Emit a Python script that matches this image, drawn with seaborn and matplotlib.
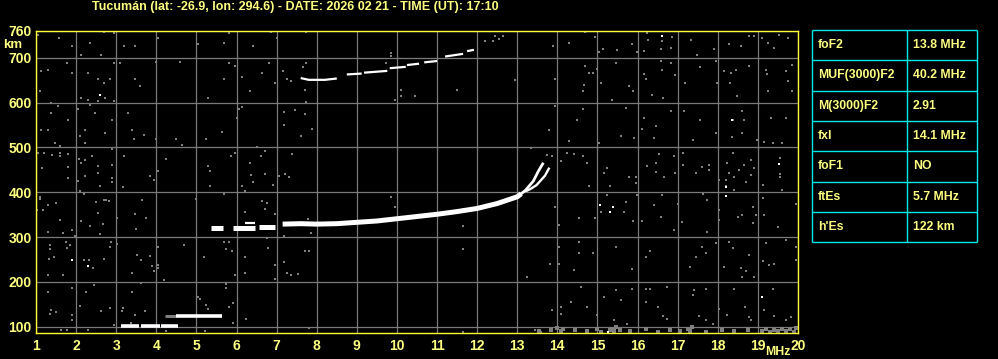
import numpy as np
import pandas as pd
import matplotlib
matplotlib.use("Agg")
import matplotlib.pyplot as plt
import seaborn as sns

# ---------------- data ----------------
title = "Tucumán (lat: -26.9, lon: 294.6) - DATE: 2026 02 21 - TIME (UT): 17:10"
x_ticks = list(range(1, 21))
y_ticks = [100, 200, 300, 400, 500, 600, 700, 760]

table_labels = ["foF2", "MUF(3000)F2", "M(3000)F2", "fxI", "foF1", "ftEs", "h'Es"]
table_values = ["13.8 MHz", "40.2 MHz", "2.91", "14.1 MHz", "NO", "5.7 MHz", "122 km"]

# F2 trace (ordinary) - thick low-frequency body, in segments
f2_body_seg = [1, 1, 2, 2, 3, 3,
               5, 5, 5, 5, 5, 5, 5, 5, 5, 5, 5, 5, 5, 5]
f2_body_mhz = [5.37, 5.66, 5.90, 6.45, 6.55, 6.95,
               7.15, 7.60, 8.00, 8.50, 9.00, 9.50, 10.0, 10.5, 11.0, 11.5, 12.0, 12.5, 13.0, 13.1]
f2_body_km = [321, 321, 321, 321, 322, 322,
              329, 330, 329, 330, 333, 336, 341, 346, 351, 357, 364, 375, 390, 397]
# thin echo just above the low-frequency part
f2_echo_mhz = [6.20, 6.47]
f2_echo_km = [332, 332]
# cusp of the ordinary trace
f2_o_mhz = [13.0, 13.2, 13.4, 13.52, 13.65]
f2_o_km = [390, 404, 425, 446, 466]
# extraordinary branch
f2_x_mhz = [13.2, 13.32, 13.48, 13.60, 13.69, 13.80]
f2_x_km = [402, 407, 416, 428, 437, 455]

# second hop F2 (2F) trace
f2b_seg = [1, 1, 1, 1, 2, 2, 3, 3, 4, 4, 5, 5, 6, 6, 7, 7, 8, 8]
f2b_mhz = [7.60, 7.80, 8.20, 8.50, 8.75, 9.12, 9.18, 9.76, 9.82, 10.22,
           10.25, 10.55, 10.68, 11.0, 11.2, 11.65, 11.75, 11.92]
f2b_km = [655, 651, 651, 654, 663, 665, 667, 671, 677, 680,
          684, 687, 690, 693, 703, 709, 715, 718]

# sporadic E traces
es_low_seg = [1, 1, 2, 2, 3, 3]
es_low_mhz = [3.12, 3.58, 3.62, 4.08, 4.12, 4.55]
es_low_km = [101, 101, 101, 101, 101, 101]
es_high_mhz = [4.50, 5.63]
es_high_km = [123, 123]
es_high_faint_mhz = [4.22, 4.50]
es_high_faint_km = [124, 124]

# scattered interference dots (gray)
noise_mhz = [
    1.05, 1.57, 1.9, 2.13, 2.34, 2.63, 2.7, 2.95, 3.2, 3.47, 4.05, 5.03, 5.7, 5.8, 6.4, 6.85, 7.0,
    1.13, 1.3, 1.78, 1.9, 2.3, 2.55, 2.7, 2.85, 2.95, 3.1, 3.47, 3.6, 1.1, 1.38, 2.13, 2.3, 2.55,
    2.72, 2.95, 4.0, 4.6, 5.3, 5.68, 5.8, 5.95, 6.13, 6.34, 6.63, 6.8, 6.95, 7.15, 7.25,
    1.55, 1.38, 1.13, 1.3, 2.05, 1.8, 2.1, 2.22, 2.22, 2.35, 2.47, 2.72, 2.9, 3.3, 3.4, 3.45, 3.7,
    4.0, 4.5, 4.65, 5.25, 5.65, 6.05, 6.13, 6.0, 6.5, 7.18, 7.18, 1.48, 1.6,
    1.05, 1.2, 1.15, 1.4, 1.6, 1.6, 1.8, 1.8, 2.08, 2.13, 2.23, 2.4, 2.55, 2.9, 2.9, 2.55, 2.9,
    2.9, 2.22, 2.05, 1.8, 3.2, 2.6, 3.18, 3.85, 3.93, 4.03, 4.23, 5.3, 5.33, 5.33, 5.85, 5.97,
    6.33, 6.35, 6.4, 6.7, 6.6, 6.7, 6.9, 7.05, 7.2, 7.3, 6.13, 6.2, 2.1, 2.2, 1.1,
    1.1, 1.03, 1.18, 1.3, 1.5, 1.6, 1.3, 1.68, 1.9, 1.97, 2.13, 2.35, 2.5, 2.55, 2.7, 2.75, 2.82,
    2.68, 2.6, 3.03, 3.47, 3.5, 3.65, 3.75, 5.0, 5.7, 6.2, 6.63, 6.75, 6.7, 6.97, 6.75, 7.18,
    1.35, 1.35, 1.45, 1.33, 1.3, 1.68, 1.75, 1.77, 1.85, 2.2, 2.32, 2.43, 2.7, 2.88, 2.85, 3.03,
    3.53, 3.63, 3.85, 3.9, 3.93, 4.03, 4.03, 4.03, 3.4, 4.68, 5.2, 5.68, 5.8, 5.73, 5.88, 5.95,
    6.2, 6.2, 6.78, 6.95, 6.95, 7.18, 7.25,
    1.3, 1.38, 1.35, 1.5, 1.9, 1.9, 1.9, 2.1, 2.25, 2.45, 2.63, 2.85, 3.17, 3.15, 3.4, 3.47,
    3.63, 3.72, 4.18, 5.03, 5.1, 5.23, 5.3, 5.75, 5.75, 5.9, 5.8, 6.23, 5.92, 1.63, 1.77, 2.3,
    2.95, 3.38, 4.25, 5.22,
    7.74, 9.84, 9.84, 9.73, 7.74, 7.65, 7.36, 7.7, 7.74, 7.45, 7.7, 7.89, 7.6, 7.39, 10.1, 10.1,
    10.45, 9.95, 11.49, 12.95, 12.2, 12.4, 12.45, 12.55, 12.64, 13.34, 9.84, 9.94, 7.78, 7.85,
    11.64, 11.64, 7.7, 7.8, 7.53, 7.35, 13.24, 7.8, 11.64, 13.45, 13.59,
    14.7, 14.95, 14.28, 13.9, 15.15, 15.03, 15.48, 15.85, 15.99, 16.15, 16.23, 16.27, 16.6,
    16.58, 16.84, 16.86, 17.34, 17.49, 17.9, 18.28, 18.58, 18.78, 18.9, 19.1, 19.24, 19.4,
    19.52, 19.74,
    13.95, 14.7, 14.8, 14.9, 14.98, 14.66, 14.64, 15.1, 15.36, 15.45, 15.78, 15.88, 16.15, 16.2,
    16.36, 16.58, 16.6, 16.63, 16.84, 16.93, 17.18, 17.55, 17.95, 17.99, 18.16, 18.33, 18.45,
    18.3, 18.48, 18.78, 19.2, 19.22, 19.24, 19.7, 19.74, 19.85, 19.85,
    13.95, 14.64, 14.49, 13.8, 14.3, 15.03, 15.58, 15.7, 15.9, 16.15, 16.11, 16.4, 16.45, 16.84,
    17.15, 17.55, 17.38, 17.95, 18.37, 18.35, 18.61, 18.65, 18.6, 18.99, 19.16, 19.33, 19.7,
    19.37, 19.6,
    13.74, 13.87, 14.08, 14.24, 14.41, 14.64, 14.74, 14.78, 15.16, 15.24, 15.32, 15.78, 15.95,
    15.95, 16.24, 16.45, 16.53, 16.45, 16.66, 16.94, 16.9, 17.13, 17.13, 17.45, 17.6, 17.78,
    17.78, 18.03, 18.2, 18.24, 18.27, 18.37, 18.41, 18.53, 18.65, 18.7, 18.82, 18.9, 19.12,
    19.55, 19.6, 18.82, 18.2, 18.41, 19.55, 19.55,
    15.1, 14.55, 13.95, 14.03, 14.95, 15.24, 15.7, 15.66, 15.88, 16.1, 15.99, 16.4, 16.6, 16.59,
    16.9, 17.0, 17.1, 17.64, 17.74, 17.74, 18.02, 18.02, 18.5, 18.61, 18.87, 18.87, 18.95,
    19.12, 19.16, 19.5, 19.95,
    14.03, 13.82, 14.03, 14.53, 14.53, 14.9, 14.41, 15.45, 15.86, 16.2, 16.3, 17.3, 17.45, 17.6,
    17.7, 17.95, 18.28, 18.37, 18.16, 18.57, 18.7, 18.78, 19.2, 19.12, 19.28, 19.4, 19.7, 19.95,
    19.95, 18.9, 18.61,
    13.87, 14.1, 14.08, 14.35, 14.6, 14.74, 14.99, 15.16, 15.45, 15.58, 15.41, 15.85, 15.74,
    16.2, 16.3, 16.2, 16.52, 16.74, 16.63, 16.74, 17.37, 17.41, 17.7, 17.53, 17.7, 17.87, 18.02,
    18.24, 18.41, 18.68, 18.78, 18.83, 19.16, 19.37, 19.41, 19.7, 19.82,
]
noise_km = [
    750, 745, 726, 707, 733, 707, 758, 756, 726, 726, 745, 730, 733, 756, 726, 757, 745,
    670, 673, 689, 666, 666, 652, 644, 652, 689, 689, 652, 637, 625, 600, 610, 605, 603,
    610, 603, 690, 690, 610, 652, 688, 682, 657, 625, 666, 689, 644, 670, 652,
    592, 577, 540, 540, 585, 562, 525, 540, 510, 595, 577, 532, 562, 577, 540, 518, 527,
    518, 518, 506, 520, 535, 587, 590, 565, 500, 580, 550, 510, 503,
    487, 487, 454, 483, 487, 480, 485, 457, 475, 465, 472, 480, 459, 497, 462, 443, 431,
    422, 436, 425, 431, 482, 414, 412, 436, 427, 447, 475, 458, 448, 415, 482, 488,
    465, 438, 424, 493, 480, 441, 416, 436, 440, 434, 413, 402, 402, 396, 390,
    386, 361, 361, 372, 377, 338, 311, 309, 316, 303, 335, 324, 378, 354, 382, 382, 380,
    330, 307, 342, 352, 319, 382, 342, 386, 397, 357, 380, 376, 362, 352, 297, 303,
    282, 273, 256, 251, 215, 215, 290, 276, 283, 250, 250, 230, 251, 288, 277, 285,
    259, 248, 257, 235, 225, 279, 238, 231, 219, 283, 256, 290, 290, 273, 268, 215,
    256, 220, 275, 237, 206, 245, 219,
    178, 137, 128, 133, 186, 126, 115, 147, 178, 193, 135, 141, 141, 134, 178, 127,
    197, 135, 205, 166, 161, 148, 139, 196, 187, 153, 143, 117, 108, 92, 92, 92,
    104, 108, 90, 90,
    757, 711, 704, 689, 689, 679, 648, 628, 601, 584, 575, 541, 526, 486, 629, 616,
    616, 607, 629, 650, 737, 737, 748, 743, 748, 499, 390, 368, 340, 310,
    325, 273, 270, 270, 217, 215, 211, 97, 88, 92, 88,
    757, 747, 733, 726, 719, 713, 717, 730, 713, 715, 756, 740, 737,
    719, 722, 746, 740, 707, 719, 730, 726, 748, 749, 745, 733, 722,
    752, 745,
    652, 683, 666, 666, 675, 640, 625, 644, 607, 689, 637, 625, 663, 652,
    618, 692, 674, 610, 689, 661, 644, 680, 692, 644, 670, 666, 674,
    644, 614, 681, 674, 663, 625, 670, 648, 685, 625,
    593, 586, 562, 540, 514, 510, 526, 588, 521, 566, 542, 521, 549, 581,
    581, 562, 517, 532, 562, 523, 581, 562, 532, 517, 513, 566, 566,
    510, 510,
    484, 480, 469, 487, 486, 481, 465, 413, 443, 454, 413, 435, 435,
    420, 458, 465, 486, 446, 435, 443, 480, 487, 461, 443, 457, 461,
    450, 428, 413, 465, 443, 488, 435, 450, 461, 424, 439, 454, 417,
    476, 406, 472, 428, 406, 435, 441,
    357, 342, 368, 327, 342, 394, 379, 357, 335, 335, 394, 372, 394, 344,
    316, 375, 334, 396, 383, 312, 361, 338, 346, 350, 368, 332, 350,
    387, 350, 323, 375,
    278, 241, 241, 290, 264, 265, 226, 278, 228, 256, 270, 234, 256, 278,
    264, 286, 290, 275, 234, 232, 225, 260, 286, 247, 237, 241, 293, 278,
    249, 212, 210,
    137, 144, 129, 155, 189, 145, 126, 167, 183, 159, 114, 185, 107,
    185, 185, 155, 145, 189, 123, 118, 170, 183, 185, 123, 114, 107, 140,
    126, 185, 145, 122, 116, 138, 185, 123, 114, 122,
]

# interference clusters just above the lower edge (high frequencies)
band_mhz = [13.55, 13.85, 14.0, 14.1, 14.15, 14.45, 14.75, 15.0, 15.1,
            15.3, 15.35, 15.4, 15.45, 15.55, 15.8, 16.2, 16.5,
            16.8, 17.05, 17.25, 17.3, 17.35, 17.7, 18.1, 18.4,
            18.75, 19.1, 19.2, 19.3, 19.4, 19.5, 19.6, 19.7, 19.8, 19.9, 19.95]
band_km = [90, 93, 97, 90, 95, 92, 90, 94, 89,
           92, 96, 91, 99, 93, 90, 94, 89,
           92, 90, 96, 91, 100, 89, 93, 90,
           92, 90, 95, 89, 93, 91, 96, 90, 94, 89, 97]

# white speckles
white_mhz = [1.9, 2.3, 2.59, 16.6, 19.53, 18.2, 18.2, 15.07, 15.3, 15.39, 19.1, 18.35, 15.25]
white_km = [250, 235, 618, 748, 463, 412, 391, 372, 357, 368, 167, 562, 88]

# ---------------- style ----------------
YELLOW = "#ffff80"
SPINE = "#ffff33"
GRID = "#7a7a7a"
NOISE = "#808080"
CYAN = "#00e8e8"

sns.set_theme(style="dark")
plt.rcParams["font.family"] = ["Liberation Sans", "DejaVu Sans"]
plt.rcParams["font.weight"] = "bold"

W, H = 998, 359
fig = plt.figure(figsize=(W / 100, H / 100), dpi=100, facecolor="black")
ax = fig.add_axes([36 / W, 1 - 333 / H, (798 - 36) / W, (333 - 31) / H])
ax.set_facecolor("black")

ax.set_xlim(1, 20)
ax.set_ylim(86, 760)
ax.set_xticks(x_ticks)
ax.set_yticks(y_ticks)
ax.set_xticklabels([str(v) for v in x_ticks])
ax.set_yticklabels([str(v) for v in y_ticks])
ax.grid(True, color=GRID, linewidth=0.9)
ax.tick_params(axis="both", length=0, colors=YELLOW, labelsize=10)
ax.tick_params(axis="x", pad=4)
ax.tick_params(axis="y", pad=3)
for lab in ax.get_xticklabels() + ax.get_yticklabels():
    lab.set_fontweight("bold")
for sp in ax.spines.values():
    sp.set_color(SPINE)
    sp.set_linewidth(1.0)

# noise
sns.scatterplot(x=noise_mhz, y=noise_km, marker="s", s=4.0, color=NOISE,
                linewidth=0, ax=ax, legend=False)
sns.scatterplot(x=band_mhz, y=band_km, marker="s", s=5.0, color=NOISE,
                linewidth=0, ax=ax, legend=False)
sns.scatterplot(x=white_mhz, y=white_km, marker="s", s=4.0, color="white",
                linewidth=0, ax=ax, legend=False)

def trace(mhz, km, seg, lw, color="white"):
    df = pd.DataFrame({"f": mhz, "h": km, "seg": seg})
    sns.lineplot(data=df, x="f", y="h", units="seg", estimator=None, sort=False,
                 color=color, linewidth=lw, solid_capstyle="butt", ax=ax, legend=False)

trace(f2_body_mhz, f2_body_km, f2_body_seg, 3.6)
trace(f2_echo_mhz, f2_echo_km, [1, 1], 1.6)
trace(f2_o_mhz, f2_o_km, [1] * len(f2_o_mhz), 2.0)
trace(f2_x_mhz, f2_x_km, [1] * len(f2_x_mhz), 1.7)
trace(f2b_mhz, f2b_km, f2b_seg, 1.6)
trace(es_low_mhz, es_low_km, es_low_seg, 2.6)
trace(es_high_faint_mhz, es_high_faint_km, [1, 1], 2.2, color=NOISE)
trace(es_high_mhz, es_high_km, [1, 1], 2.6)

ax.set_xlabel("")
ax.set_ylabel("")

# axis unit labels
fig.text(778 / W, 1 - 352 / H, "MHz", color=YELLOW, fontsize=8.8, fontweight="bold",
         ha="center", va="center")
fig.text(13 / W, 1 - 45.5 / H, "km", color=YELLOW, fontsize=9.5, fontweight="bold",
         ha="center", va="center")

# title
fig.text(295 / W, 1 - 7 / H, title, color=YELLOW, fontsize=9, fontweight="bold",
         ha="center", va="center")

# parameter table
tx = fig.add_axes([0, 0, 1, 1], facecolor="none")
tx.set_xlim(0, W)
tx.set_ylim(H, 0)
tx.axis("off")
left, mid, right = 812, 907, 977
top, row_h = 30, 30.3
n = len(table_labels)
bottom = top + n * row_h
for i in range(n + 1):
    yy = top + i * row_h
    tx.plot([left, right], [yy, yy], color=CYAN, lw=1.0, solid_capstyle="butt")
for xx in (left, mid, right):
    tx.plot([xx, xx], [top, bottom], color=CYAN, lw=1.0, solid_capstyle="butt")
for i, (lab, val) in enumerate(zip(table_labels, table_values)):
    yc = top + (i + 0.5) * row_h
    tx.text(818, yc, lab, color=YELLOW, fontsize=8.8, fontweight="bold", ha="left", va="center")
    tx.text(913, yc, val, color=YELLOW, fontsize=8.8, fontweight="bold", ha="left", va="center")

fig.savefig("out.png", dpi=100, facecolor="black")
